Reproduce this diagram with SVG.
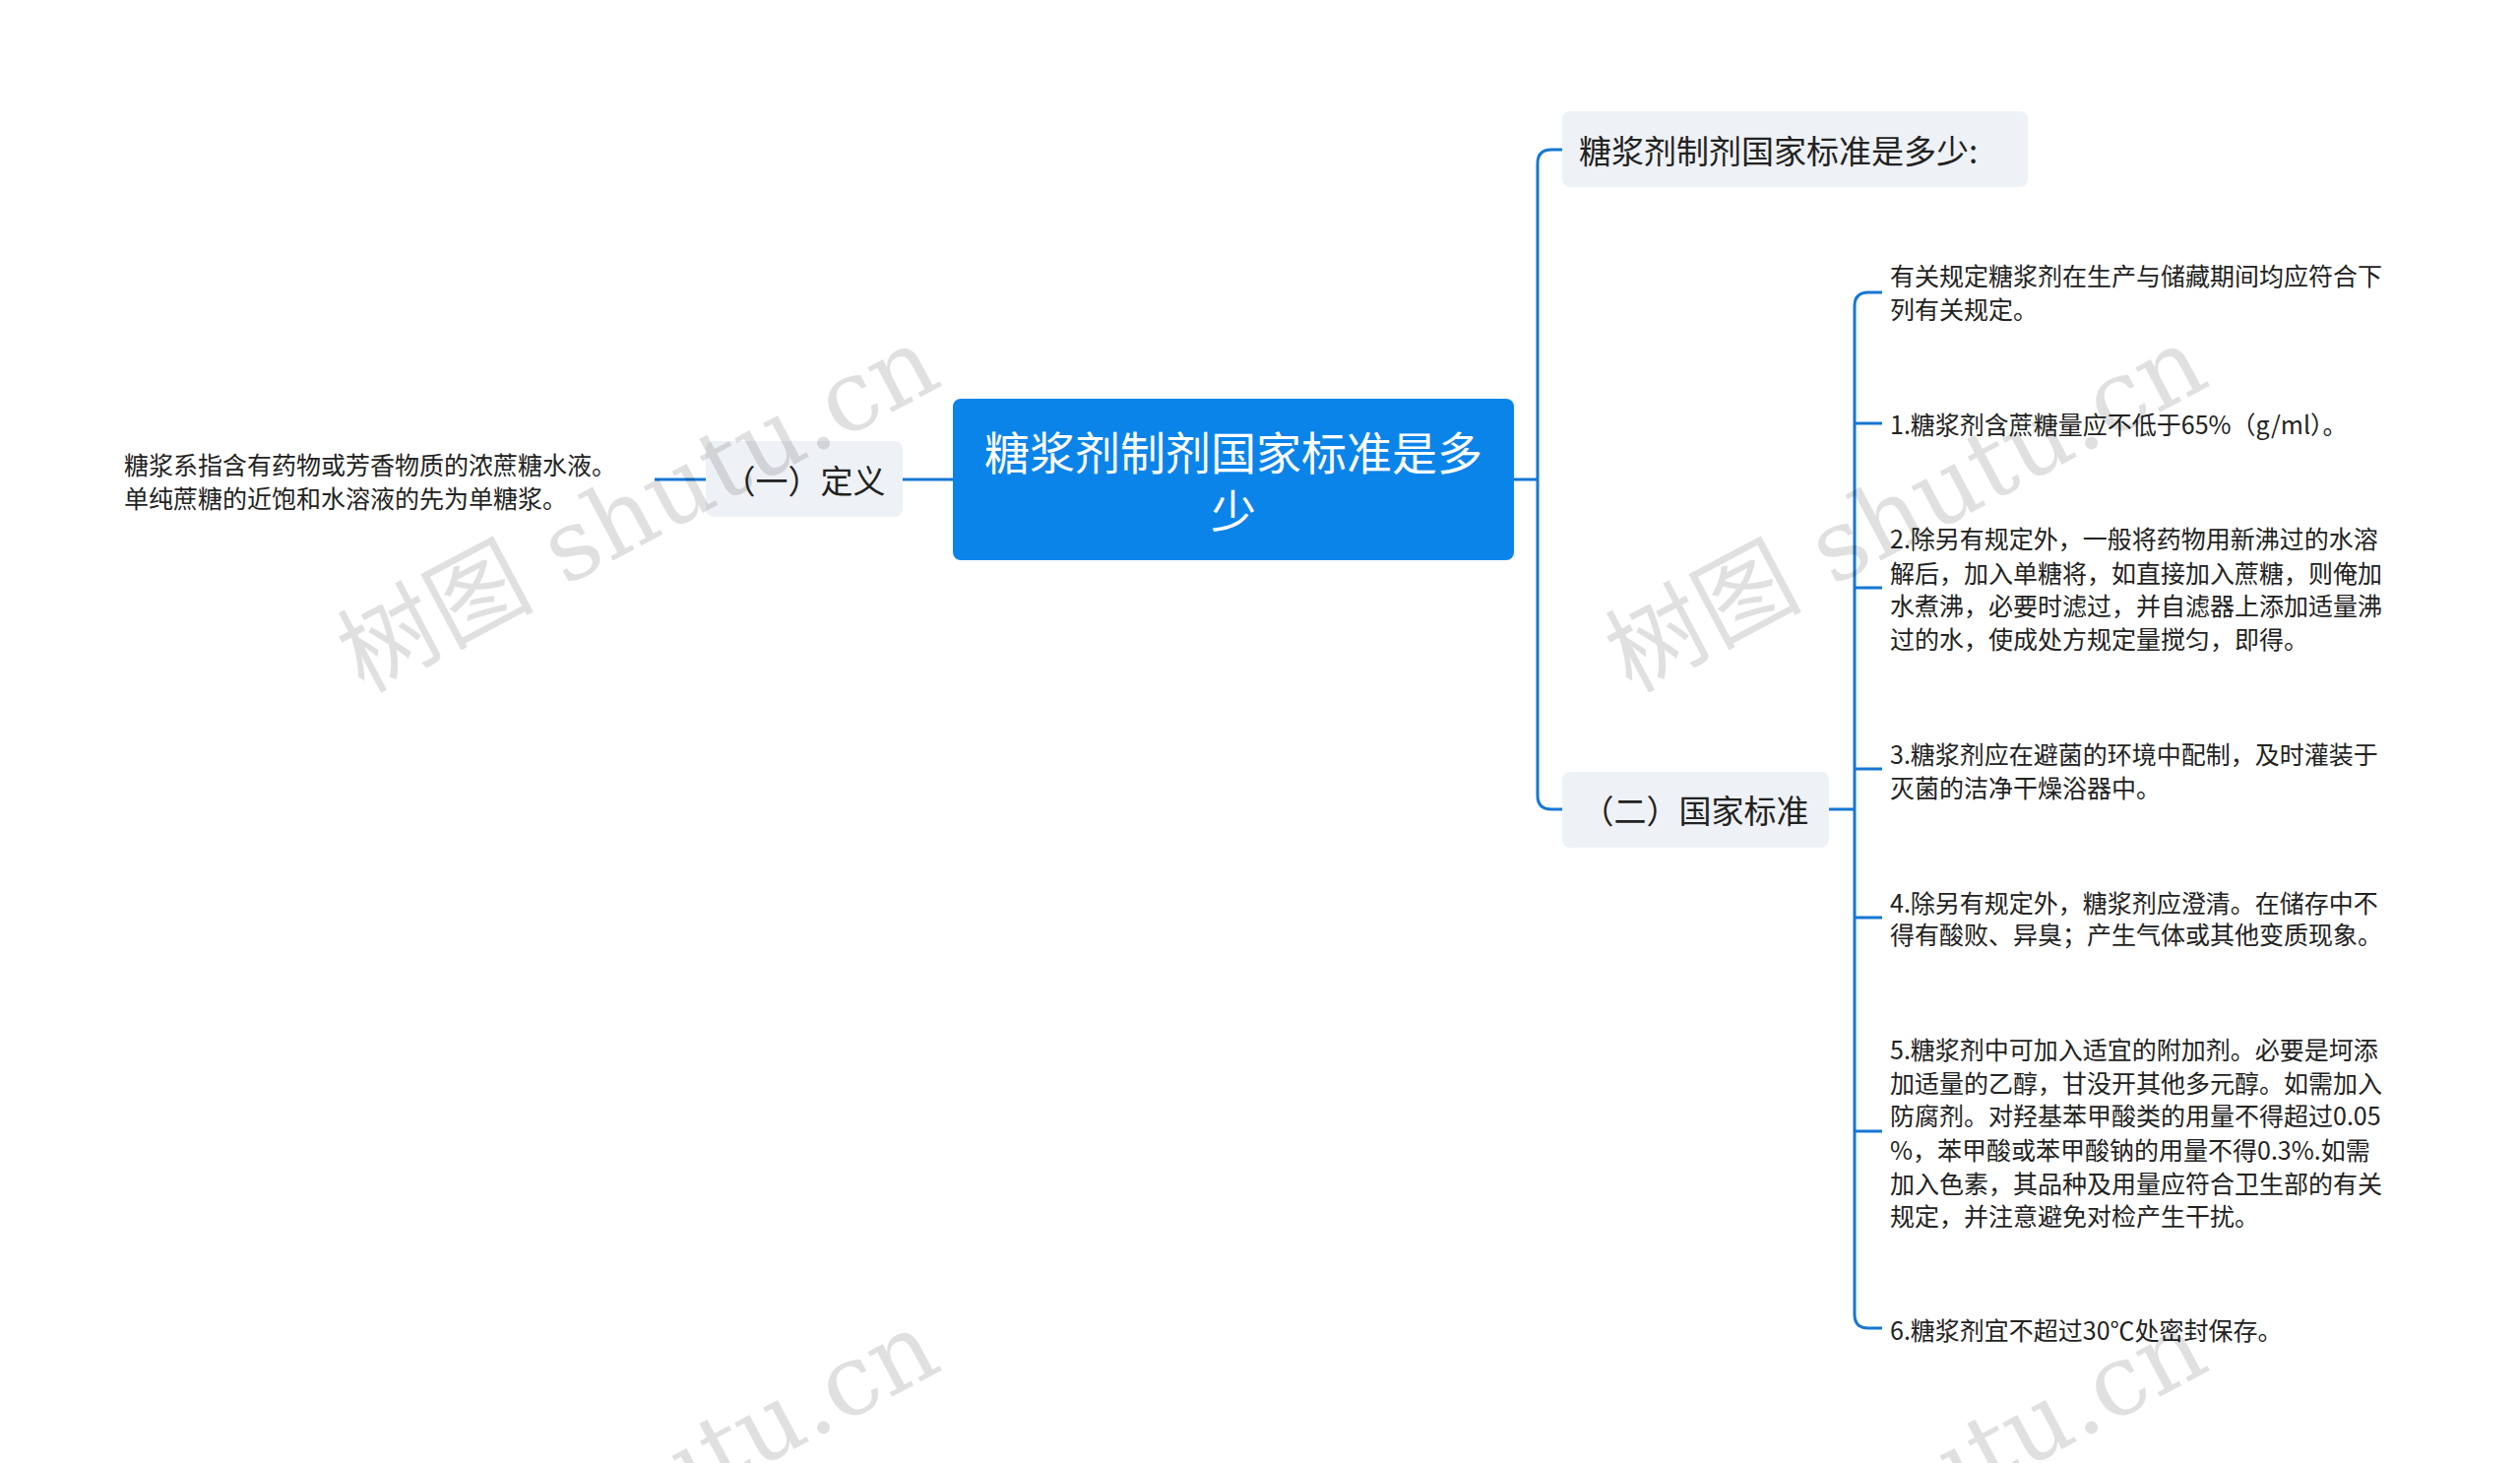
<svg xmlns="http://www.w3.org/2000/svg" width="2560" height="1486" viewBox="0 0 2560 1486">
<style>
text{font-family:"Noto Sans CJK SC","Noto Sans",sans-serif;dominant-baseline:central}
.c{fill:none;stroke:#1677d2;stroke-width:3}
.sub{fill:#eef1f5}
.st{font-size:33px;fill:#222}
.lf{font-size:25px;fill:#222}
.wm{font-size:100px;fill:#000;fill-opacity:0.12;font-family:"DejaVu Serif","Noto Sans CJK SC",serif}
</style>
<rect width="2560" height="1486" fill="#fff"/>
<g id="connectors">
<path class="c" d="M968 487H917M717 487H665"/>
<path class="c" d="M1538 487H1562M1562 487V166Q1562 152 1576 152H1587M1562 487V808Q1562 822 1576 822H1587"/>
<path class="c" d="M1858 822H1884M1884 311Q1884 297 1898 297H1912M1884 311V1335Q1884 1349 1898 1349H1912M1884 430H1912M1884 597H1912M1884 781H1912M1884 932H1912M1884 1149H1912"/>
</g>
<g id="center"><rect x="968" y="405" width="570" height="164" rx="8" fill="#0b84ea"/>
<text x="1253" y="457" font-size="46" fill="#fff" text-anchor="middle">糖浆剂制剂国家标准是多</text>
<text x="1253" y="516" font-size="46" fill="#fff" text-anchor="middle">少</text></g>
<g id="def"><rect class="sub" x="717" y="448" width="200" height="77" rx="8"/><text class="st" x="817" y="487" text-anchor="middle">（一）定义</text></g>
<g id="defleaf"><text class="lf" x="126" y="471">糖浆系指含有药物或芳香物质的浓蔗糖水液。</text><text class="lf" x="126" y="505">单纯蔗糖的近饱和水溶液的先为单糖浆。</text></g>
<g id="q"><rect class="sub" x="1587" y="113" width="473" height="77" rx="8"/><text class="st" x="1604" y="152">糖浆剂制剂国家标准是多少:</text></g>
<g id="std"><rect class="sub" x="1587" y="784" width="271" height="77" rx="8"/><text class="st" x="1722" y="822" text-anchor="middle">（二）国家标准</text></g>
<g id="l0"><text class="lf" x="1920" y="279">有关规定糖浆剂在生产与储藏期间均应符合下</text><text class="lf" x="1920" y="313">列有关规定。</text></g>
<g id="l1"><text class="lf" x="1920" y="430">1.糖浆剂含蔗糖量应不低于65%（g/ml）。</text></g>
<g id="l2"><text class="lf" x="1920" y="546">2.除另有规定外，一般将药物用新沸过的水溶</text><text class="lf" x="1920" y="581">解后，加入单糖将，如直接加入蔗糖，则俺加</text><text class="lf" x="1920" y="614">水煮沸，必要时滤过，并自滤器上添加适量沸</text><text class="lf" x="1920" y="648">过的水，使成处方规定量搅匀，即得。</text></g>
<g id="l3"><text class="lf" x="1920" y="765">3.糖浆剂应在避菌的环境中配制，及时灌装于</text><text class="lf" x="1920" y="799">灭菌的洁净干燥浴器中。</text></g>
<g id="l4"><text class="lf" x="1920" y="916">4.除另有规定外，糖浆剂应澄清。在储存中不</text><text class="lf" x="1920" y="948">得有酸败、异臭；产生气体或其他变质现象。</text></g>
<g id="l5"><text class="lf" x="1920" y="1065">5.糖浆剂中可加入适宜的附加剂。必要是坷添</text><text class="lf" x="1920" y="1099">加适量的乙醇，甘没开其他多元醇。如需加入</text><text class="lf" x="1920" y="1132">防腐剂。对羟基苯甲酸类的用量不得超过0.05</text><text class="lf" x="1920" y="1167">%，苯甲酸或苯甲酸钠的用量不得0.3%.如需</text><text class="lf" x="1920" y="1201">加入色素，其品种及用量应符合卫生部的有关</text><text class="lf" x="1920" y="1234">规定，并注意避免对检产生干扰。</text></g>
<g id="l6"><text class="lf" x="1920" y="1350">6.糖浆剂宜不超过30℃处密封保存。</text></g>
<g id="watermarks">
<text class="wm" x="648" y="517" text-anchor="middle" transform="rotate(-28 648 517)">树图 shutu.cn</text>
<text class="wm" x="1936" y="517" text-anchor="middle" transform="rotate(-28 1936 517)">树图 shutu.cn</text>
<text class="wm" x="648" y="1517" text-anchor="middle" transform="rotate(-28 648 1517)">树图 shutu.cn</text>
<text class="wm" x="1936" y="1517" text-anchor="middle" transform="rotate(-28 1936 1517)">树图 shutu.cn</text>
</g>
</svg>
